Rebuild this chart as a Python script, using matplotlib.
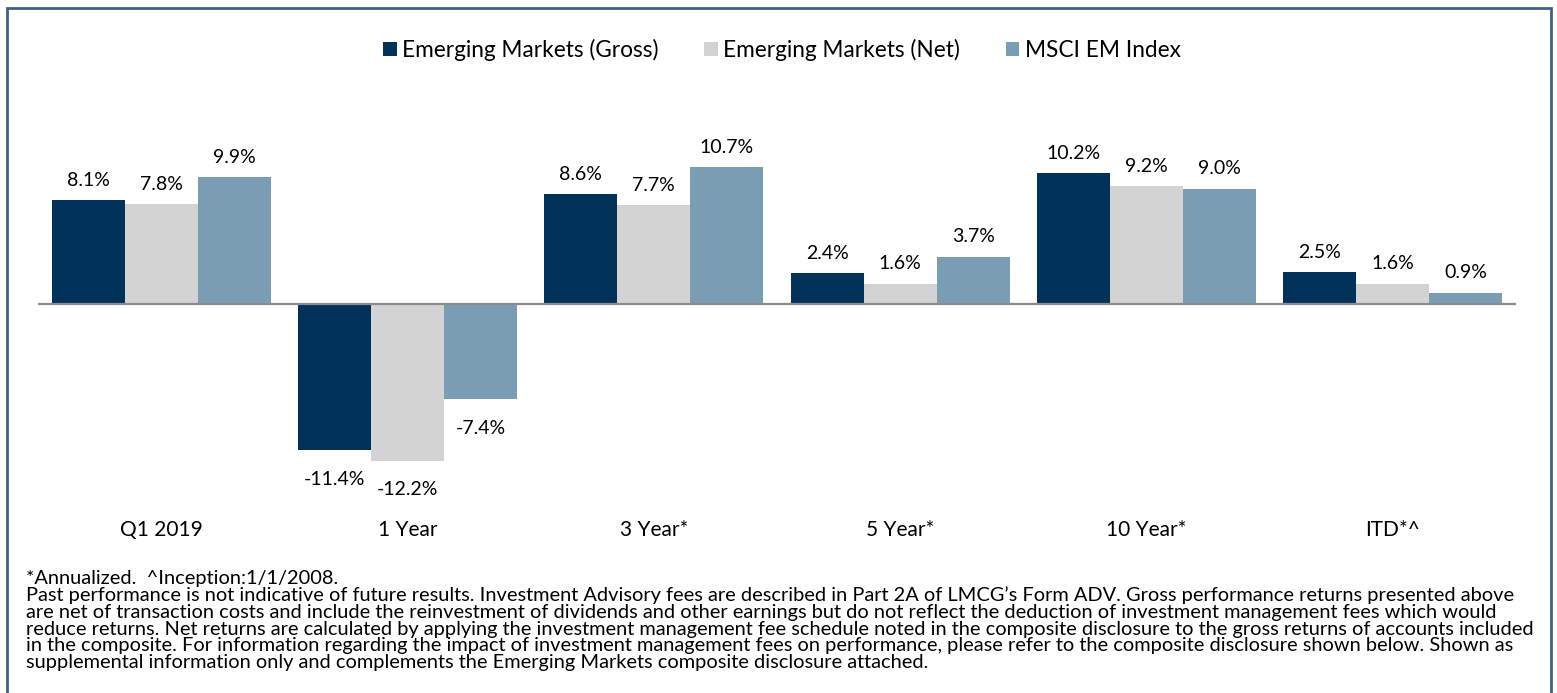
import matplotlib.pyplot as plt
import numpy as np
from matplotlib.patches import Rectangle, Patch

plt.rcParams['font.family'] = ['Lato', 'DejaVu Sans']

categories = ['Q1 2019', '1 Year', '3 Year*', '5 Year*', '10 Year*', 'ITD*^']
series = ['Emerging Markets (Gross)', 'Emerging Markets (Net)', 'MSCI EM Index']
gross = [8.1, -11.4, 8.6, 2.4, 10.2, 2.5]
net = [7.8, -12.2, 7.7, 1.6, 9.2, 1.6]
index = [9.9, -7.4, 10.7, 3.7, 9.0, 0.9]
colors = ['#00325A', '#D3D3D3', '#7A9DB3']

footnote = (
    "*Annualized.  ^Inception:1/1/2008.\n"
    "Past performance is not indicative of future results. Investment Advisory fees are described in Part 2A of LMCG\u2019s Form ADV. Gross performance returns presented above\n"
    "are net of transaction costs and include the reinvestment of dividends and other earnings but do not reflect the deduction of investment management fees which would\n"
    "reduce returns. Net returns are calculated by applying the investment management fee schedule noted in the composite disclosure to the gross returns of accounts included\n"
    "in the composite. For information regarding the impact of investment management fees on performance, please refer to the composite disclosure shown below. Shown as\n"
    "supplemental information only and complements the Emerging Markets composite disclosure attached."
)

W, H = 1557, 693
fig = plt.figure(figsize=(W / 100, H / 100), dpi=100)
ax = fig.add_axes([38 / W, 1 - 512 / H, (1516 - 38) / W, (512 - 100) / H])

x = np.arange(len(categories))
w = 0.296
for i, (vals, c) in enumerate(zip([gross, net, index], colors)):
    bars = ax.bar(x + (i - 1) * w, vals, w, color=c, linewidth=0)
    for b, v in zip(bars, vals):
        cx = b.get_x() + b.get_width() / 2
        if v >= 0:
            ax.annotate(f'{v:.1f}%', (cx, v), xytext=(0, 8), textcoords='offset points',
                        ha='center', va='bottom', fontsize=14)
        else:
            ax.annotate(f'{v:.1f}%', (cx, v), xytext=(0, -15), textcoords='offset points',
                        ha='center', va='top', fontsize=14)

ax.axhline(0, color='#8C8C8C', lw=1.6, zorder=3)
ax.set_xlim(-0.5, len(categories) - 0.5)
ax.set_ylim(-16.2, 15.9)
ax.set_xticks(x)
ax.set_xticklabels(categories, fontsize=15)
ax.tick_params(axis='x', length=0, pad=6)
ax.set_yticks([])
for s in ax.spines.values():
    s.set_visible(False)

handles = [Patch(facecolor=c, edgecolor='none') for c in colors]
fig.legend(handles, series, loc='center', bbox_to_anchor=(782 / W, 1 - 50 / H),
           ncol=3, frameon=False, fontsize=16.3, handlelength=0.6, handleheight=0.6,
           handletextpad=0.25, columnspacing=2.0)

fig.text(26 / W, 1 - 570 / H, footnote, ha='left', va='top', fontsize=14.4, linespacing=0.97)

fig.patches.append(Rectangle((6.5 / W, -0.05), (1551 - 6.5) / W, 1.05 - 8 / H,
                             transform=fig.transFigure, fill=False,
                             edgecolor='#3D5F8C', linewidth=2))

fig.savefig('out.png', dpi=100)
